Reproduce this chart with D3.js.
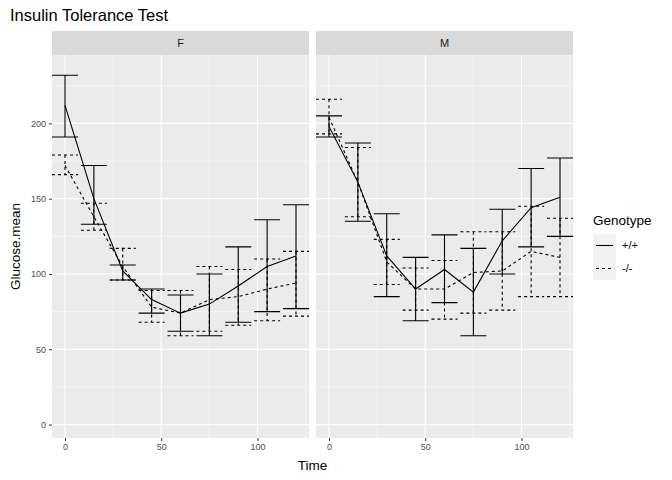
<!DOCTYPE html>
<html><head><meta charset="utf-8">
<script src="https://cdn.jsdelivr.net/npm/d3@7"></script>
<style>body{margin:0;background:#fff;font-family:"Liberation Sans",Arial,sans-serif}</style>
</head><body><div id="chart"></div>
<script>
// data
const times = [0, 15, 30, 45, 60, 75, 90, 105, 120];
const panels = ["F", "M"];
const genotypes = ["+/+", "-/-"];

const fWtMean = [212, 150, 102, 83, 74, 80, 92, 105, 112];
const fWtUpper = [232, 172, 106, 90, 86, 100, 118, 136, 146];
const fWtLower = [191, 133, 96, 74, 62, 59, 68, 75, 77];
const fKoMean = [172, 138, 105, 78, 74, 83, 85, 90, 94];
const fKoUpper = [179, 147, 117, 89, 89, 105, 103, 110, 115];
const fKoLower = [166, 129, 96, 68, 59, 62, 66, 69, 72];

const mWtMean = [198, 161, 112, 90, 103, 88, 122, 144, 151];
const mWtUpper = [205, 187, 140, 111, 126, 117, 143, 170, 177];
const mWtLower = [191, 135, 85, 69, 81, 59, 100, 118, 125];
const mKoMean = [204, 161, 108, 90, 90, 101, 102, 115, 111];
const mKoUpper = [216, 184, 123, 104, 109, 128, 128, 145, 137];
const mKoLower = [193, 138, 93, 76, 70, 74, 76, 85, 85];

const yTicks = [0, 50, 100, 150, 200];
const xTicks = [0, 50, 100];

const series = {
  F: { "+/+": [fWtMean, fWtUpper, fWtLower], "-/-": [fKoMean, fKoUpper, fKoLower] },
  M: { "+/+": [mWtMean, mWtUpper, mWtLower], "-/-": [mKoMean, mKoUpper, mKoLower] }
};

const W = 672, H = 480;
const svg = d3.select("#chart").append("svg").attr("width", W).attr("height", H);
svg.append("rect").attr("width", W).attr("height", H).attr("fill", "#fff");

const plotTop = 55, plotBottom = 438, stripH = 24;
const panelX = [52, 316], panelW = 257;

const y = d3.scaleLinear().domain([-8.9, 245.4]).range([plotBottom, plotTop]);

svg.append("text").attr("x", 10).attr("y", 21).attr("font-size", 16.5).attr("fill", "#000")
  .text("Insulin Tolerance Test");

panels.forEach((p, i) => {
  const x = d3.scaleLinear().domain([-6.75, 126.75]).range([panelX[i], panelX[i] + panelW]);
  const g = svg.append("g");
  // strip
  g.append("rect").attr("x", panelX[i]).attr("y", plotTop - stripH).attr("width", panelW).attr("height", stripH).attr("fill", "#d9d9d9");
  g.append("text").attr("x", panelX[i] + panelW / 2).attr("y", plotTop - stripH / 2 + 4).attr("text-anchor", "middle")
    .attr("font-size", 11).attr("fill", "#1a1a1a").text(p);
  g.append("rect").attr("x", panelX[i]).attr("y", plotTop).attr("width", panelW).attr("height", plotBottom - plotTop).attr("fill", "#ebebeb");
  // grid
  const minorY = d3.range(25, 250, 50), minorX = [25, 75, 125];
  minorY.forEach(v => g.append("line").attr("x1", panelX[i]).attr("x2", panelX[i] + panelW).attr("y1", y(v)).attr("y2", y(v)).attr("stroke", "#fff").attr("stroke-width", 0.6));
  minorX.forEach(v => g.append("line").attr("x1", x(v)).attr("x2", x(v)).attr("y1", plotTop).attr("y2", plotBottom).attr("stroke", "#fff").attr("stroke-width", 0.6));
  yTicks.forEach(v => g.append("line").attr("x1", panelX[i]).attr("x2", panelX[i] + panelW).attr("y1", y(v)).attr("y2", y(v)).attr("stroke", "#fff").attr("stroke-width", 1.2));
  xTicks.forEach(v => g.append("line").attr("x1", x(v)).attr("x2", x(v)).attr("y1", plotTop).attr("y2", plotBottom).attr("stroke", "#fff").attr("stroke-width", 1.2));

  // x axis
  const xa = svg.append("g").attr("transform", `translate(0,${plotBottom})`)
    .call(d3.axisBottom(x).tickValues(xTicks).tickSize(3).tickPadding(3));
  xa.select(".domain").remove();
  xa.selectAll("line").attr("stroke", "#333");
  xa.selectAll("text").attr("font-size", 9).attr("fill", "#4d4d4d").attr("font-family", "Liberation Sans, Arial");

  if (i === 0) {
    const ya = svg.append("g").attr("transform", `translate(${panelX[0]},0)`)
      .call(d3.axisLeft(y).tickValues(yTicks).tickSize(3).tickPadding(3));
    ya.select(".domain").remove();
    ya.selectAll("line").attr("stroke", "#333");
    ya.selectAll("text").attr("font-size", 9).attr("fill", "#4d4d4d").attr("font-family", "Liberation Sans, Arial");
  }

  genotypes.forEach(gt => {
    const [mean, up, lo] = series[p][gt];
    const dash = gt === "-/-" ? "3,3" : null;
    const line = d3.line().x((d, k) => x(times[k])).y(d => y(d));
    g.append("path").datum(mean).attr("d", line).attr("fill", "none").attr("stroke", "#000")
      .attr("stroke-width", 1.1).attr("stroke-dasharray", dash);
    times.forEach((t, k) => {
      const x0 = x(t - 6.75), x1 = x(t + 6.75);
      const path = `M${x0},${y(up[k])}H${x1}M${x(t)},${y(up[k])}V${y(lo[k])}M${x0},${y(lo[k])}H${x1}`;
      g.append("path").attr("d", path).attr("fill", "none").attr("stroke", "#000")
        .attr("stroke-width", 1.1).attr("stroke-dasharray", dash);
    });
  });
});

svg.append("text").attr("x", (panelX[0] + panelX[1] + panelW) / 2).attr("y", 470).attr("text-anchor", "middle")
  .attr("font-size", 13.5).text("Time");
svg.append("text").attr("transform", `translate(20,${(plotTop + plotBottom) / 2}) rotate(-90)`).attr("text-anchor", "middle")
  .attr("font-size", 13.5).text("Glucose.mean");

// legend
svg.append("text").attr("x", 593).attr("y", 225).attr("font-size", 13.5).text("Genotype");
genotypes.forEach((gt, k) => {
  const ly = 234 + k * 23;
  svg.append("rect").attr("x", 593).attr("y", ly).attr("width", 23).attr("height", 23).attr("fill", "#f2f2f2");
  svg.append("line").attr("x1", 596).attr("x2", 613).attr("y1", ly + 11.5).attr("y2", ly + 11.5)
    .attr("stroke", "#000").attr("stroke-width", 1.1).attr("stroke-dasharray", gt === "-/-" ? "3,3" : null);
  svg.append("text").attr("x", 622).attr("y", ly + 15).attr("font-size", 11).text(gt);
});
</script></body></html>
